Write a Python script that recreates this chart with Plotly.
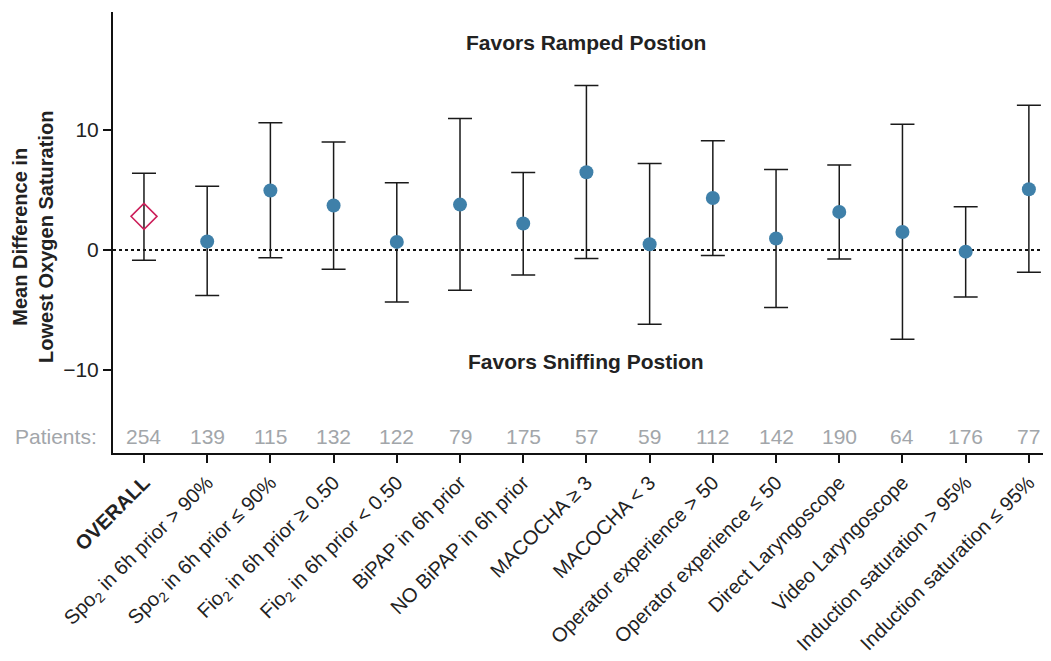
import plotly.graph_objects as go

categories = [
    "<b>OVERALL</b>",
    "Spo<sub>2</sub> in 6h prior > 90%",
    "Spo<sub>2</sub> in 6h prior ≤ 90%",
    "Fio<sub>2</sub> in 6h prior ≥ 0.50",
    "Fio<sub>2</sub> in 6h prior < 0.50",
    "BiPAP in 6h prior",
    "NO BiPAP in 6h prior",
    "MACOCHA ≥ 3",
    "MACOCHA < 3",
    "Operator experience > 50",
    "Operator experience ≤ 50",
    "Direct Laryngoscope",
    "Video Laryngoscope",
    "Induction saturation > 95%",
    "Induction saturation ≤ 95%",
]
mean_diff = [2.8, 0.7, 4.95, 3.7, 0.67, 3.78, 2.2, 6.47, 0.47, 4.33, 0.95, 3.17, 1.5, -0.14, 5.06]
ci_lower = [-0.85, -3.8, -0.65, -1.6, -4.33, -3.36, -2.08, -0.72, -6.2, -0.47, -4.8, -0.75, -7.44, -3.92, -1.86]
ci_upper = [6.4, 5.3, 10.6, 9.0, 5.6, 10.95, 6.45, 13.7, 7.2, 9.1, 6.7, 7.08, 10.47, 3.6, 12.06]
patients = [254, 139, 115, 132, 122, 79, 175, 57, 59, 112, 142, 190, 64, 176, 77]
y_ticks = [-10, 0, 10]

FONT = "Liberation Sans, Arial, Helvetica, sans-serif"
TXT = "#222222"
GREY = "#a2a6aa"

err_plus = [u - m for u, m in zip(ci_upper, mean_diff)]
err_minus = [m - l for l, m in zip(ci_lower, mean_diff)]

fig = go.Figure()

# subgroups (circles)
fig.add_trace(go.Scatter(
    x=categories[1:], y=mean_diff[1:], mode="markers",
    marker=dict(symbol="circle", size=14, color="#3f80a9"),
    error_y=dict(type="data", symmetric=False, array=err_plus[1:], arrayminus=err_minus[1:],
                 color="#1a1a1a", thickness=1.5, width=12),
    showlegend=False, cliponaxis=False,
))
# overall (open diamond)
fig.add_trace(go.Scatter(
    x=categories[:1], y=mean_diff[:1], mode="markers",
    marker=dict(symbol="diamond-open", size=20, color="#cc1f5a", line=dict(width=1.5, color="#cc1f5a")),
    error_y=dict(type="data", symmetric=False, array=err_plus[:1], arrayminus=err_minus[:1],
                 color="#1a1a1a", thickness=1.5, width=12),
    showlegend=False, cliponaxis=False,
))

# zero reference line
fig.add_shape(type="line", xref="paper", x0=0, x1=1, yref="y", y0=0, y1=0,
              line=dict(color="#111111", width=2, dash="dot"), layer="below")

annotations = []
for c, p in zip(categories, patients):
    annotations.append(dict(x=c, y=-15.55, xref="x", yref="y", text=str(p), showarrow=False,
                            font=dict(family=FONT, size=21, color=GREY)))
annotations.append(dict(x=0, y=-15.55, xref="paper", yref="y", text="Patients:", showarrow=False,
                        xanchor="right", xshift=-14, font=dict(family=FONT, size=21, color=GREY)))
annotations.append(dict(x=7, y=17.33, xref="x", yref="y", text="<b>Favors Ramped Postion</b>",
                        showarrow=False, font=dict(family=FONT, size=21, color=TXT)))
annotations.append(dict(x=7, y=-9.33, xref="x", yref="y", text="<b>Favors Sniffing Postion</b>",
                        showarrow=False, font=dict(family=FONT, size=21, color=TXT)))
annotations.append(dict(x=0, y=0.49, xref="paper", yref="paper",
                        text="<b>Mean Difference in<br>Lowest Oxygen Saturation</b>",
                        showarrow=False, textangle=-90, xshift=-106,
                        font=dict(family=FONT, size=20, color=TXT)))

fig.update_layout(
    width=1043, height=653,
    margin=dict(l=105, r=0, t=4, b=208, autoexpand=False),
    paper_bgcolor="white", plot_bgcolor="white",
    font=dict(family=FONT, color=TXT),
    annotations=annotations,
    xaxis=dict(
        type="category", categoryorder="array", categoryarray=categories,
        range=[-0.49, 14.35], showgrid=False, zeroline=False, automargin=False,
        showline=True, linecolor="#111111", linewidth=2,
        ticks="outside", ticklen=8, tickwidth=2, tickcolor="#111111",
        tickangle=-45, tickfont=dict(family=FONT, size=20, color=TXT),
    ),
    yaxis=dict(
        range=[-16.92, 19.83], showgrid=False, zeroline=False, automargin=False,
        showline=True, linecolor="#111111", linewidth=2,
        ticks="outside", ticklen=8, tickwidth=2, tickcolor="#111111",
        tickvals=y_ticks, tickfont=dict(family=FONT, size=21, color=TXT),
    ),
)

fig.write_html("out.html")
